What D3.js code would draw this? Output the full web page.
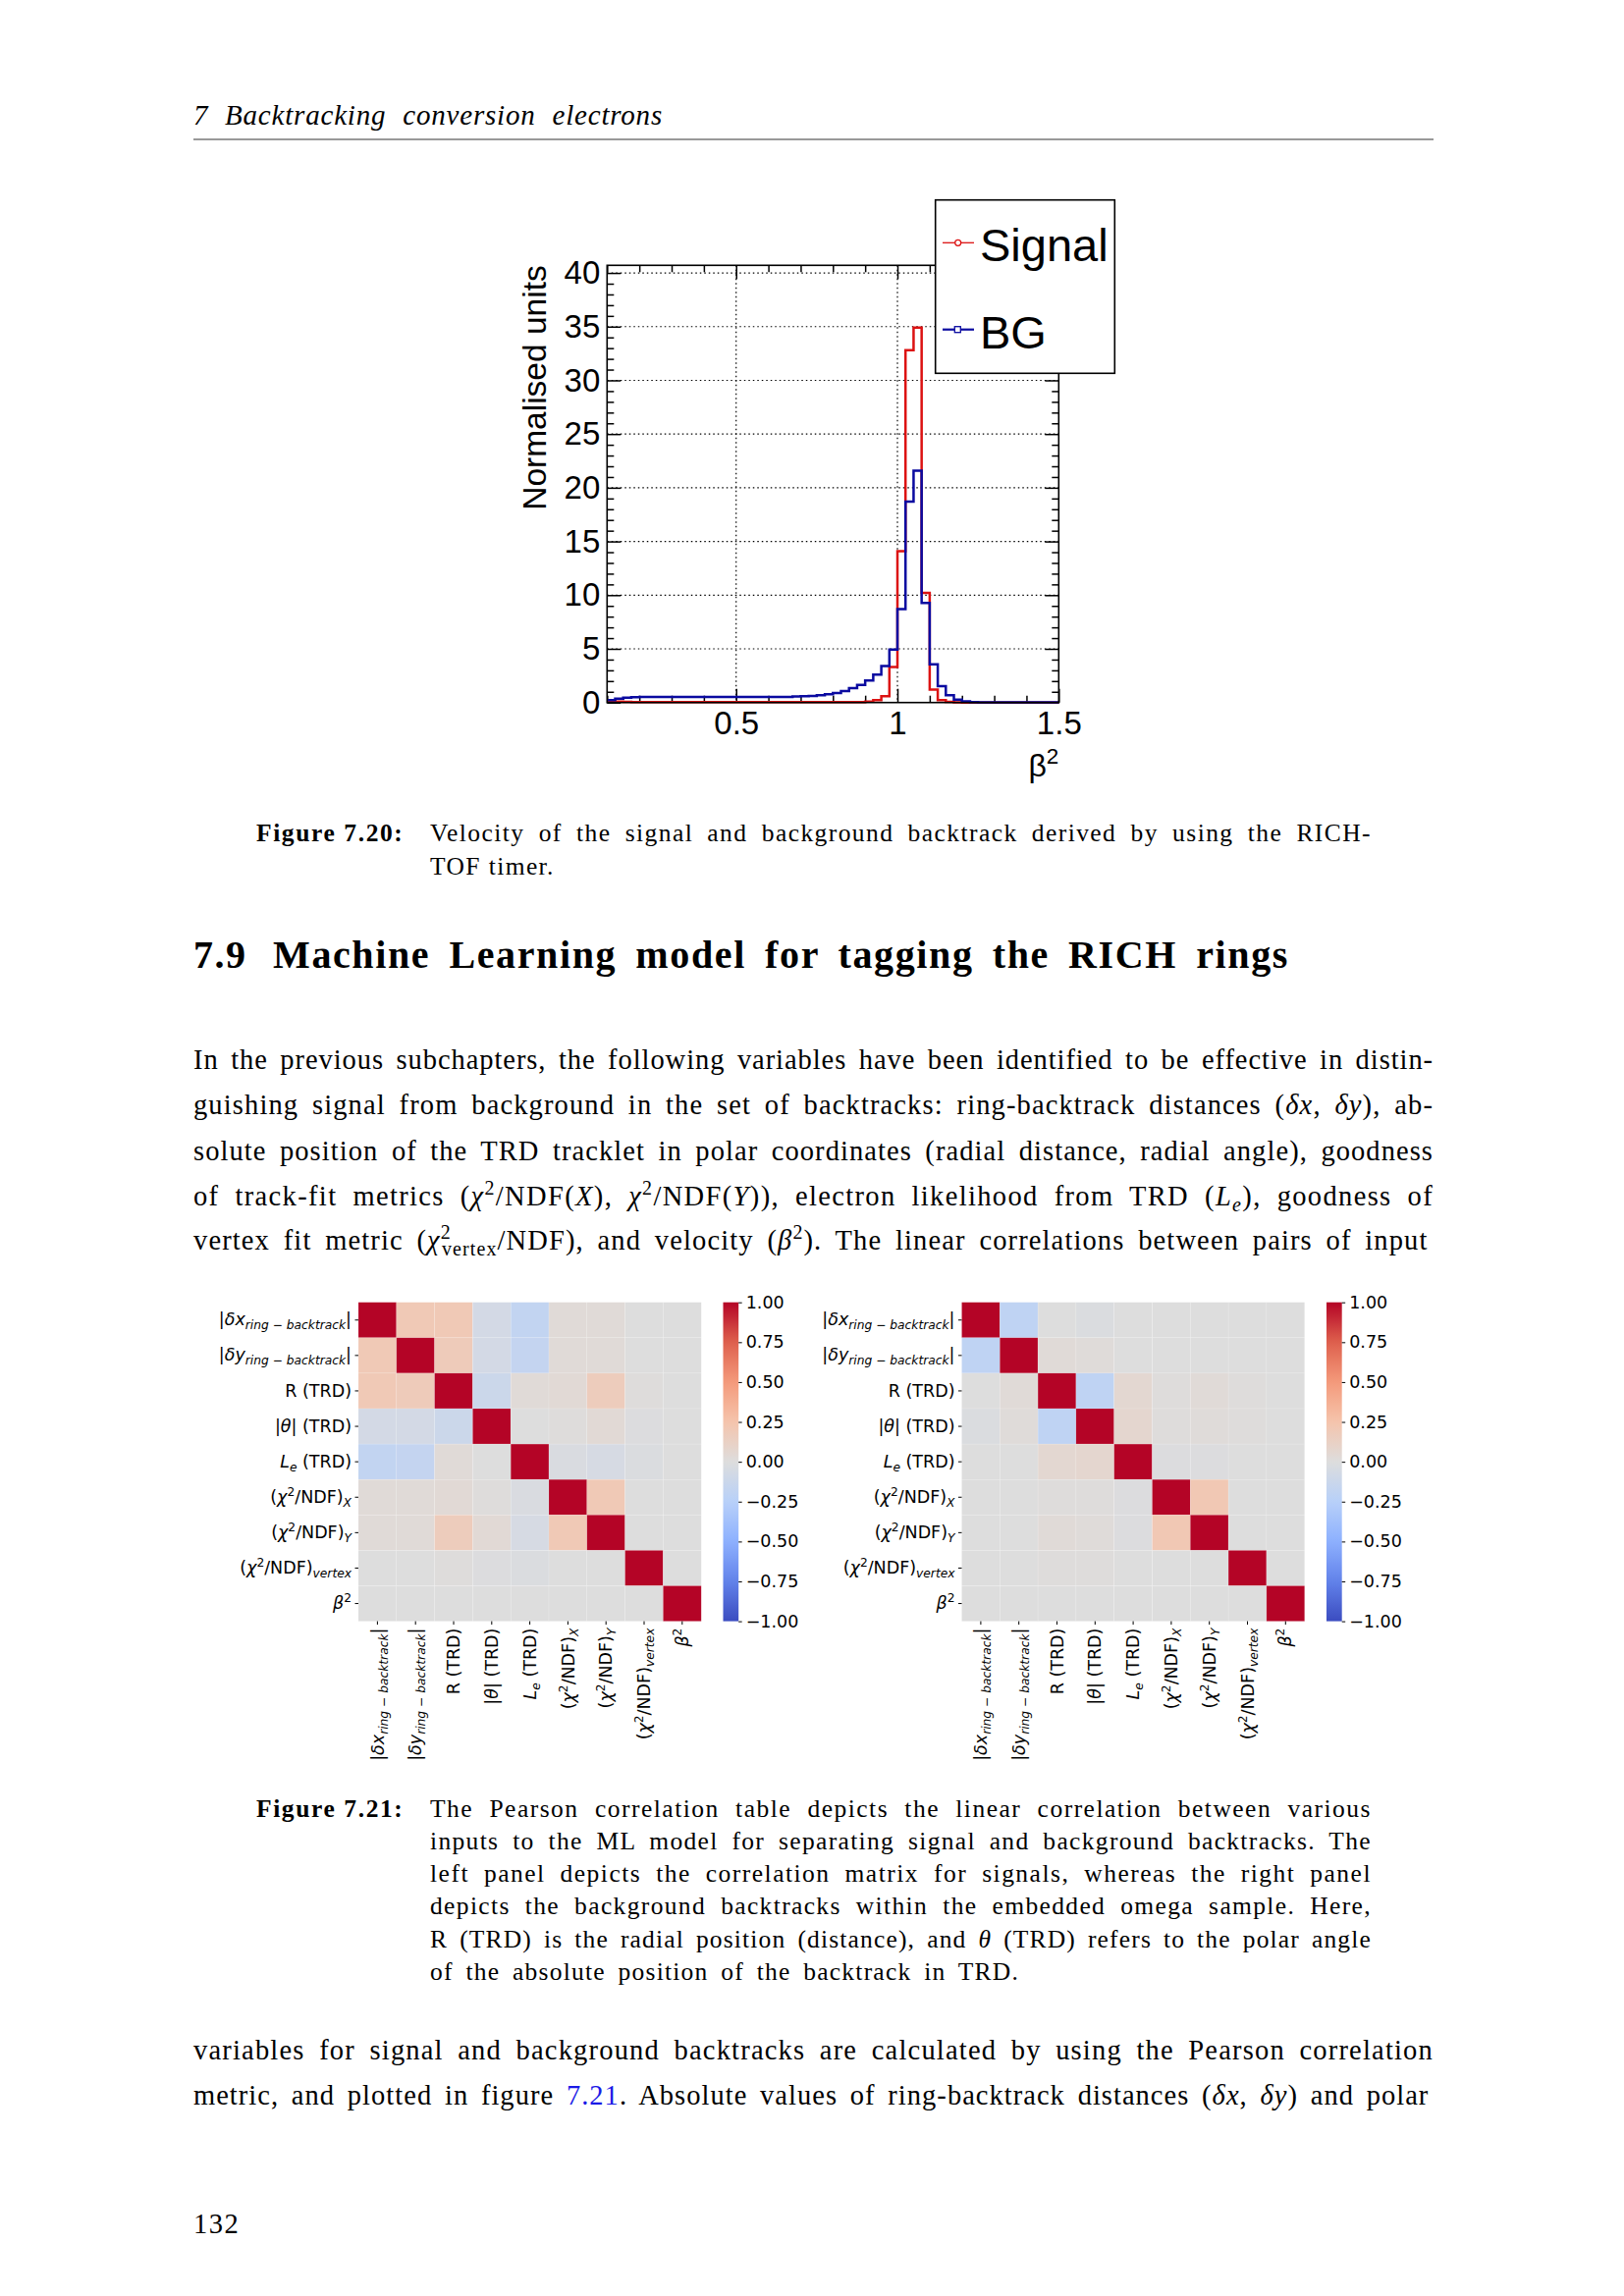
<!DOCTYPE html>
<html>
<head>
<meta charset="utf-8">
<title>beta2 and correlation tables</title>
<script src="https://d3js.org/d3.v7.min.js"></script>
<style>
  body { margin: 0; background: #fff; }
</style>
</head>
<body>
<svg width="1654" height="2339"></svg>
<script>
// ---- histogram: beta^2, bins of 0.025 starting at 0.1
var binLow = 0.1, binWidth = 0.025;
var signal = [
  0.15, 0.08, 0.06, 0.05, 0.05, 0.05, 0.05, 0.05,
  0.05, 0.05, 0.05, 0.05, 0.05, 0.05, 0.05, 0.05,
  0.05, 0.05, 0.05, 0.05, 0.05, 0.05, 0.05, 0.05,
  0.05, 0.05, 0.05, 0.05, 0.05, 0.05, 0.05, 0.05,
  0.08, 0.22, 0.58, 3.3, 14.1, 32.8, 34.9, 10.2,
  1.2, 0.22, 0.06, 0.02, 0, 0, 0, 0,
  0, 0, 0, 0, 0, 0, 0, 0
];
var bg = [
  0.22, 0.37, 0.45, 0.50, 0.52, 0.53, 0.53, 0.53,
  0.53, 0.53, 0.53, 0.53, 0.53, 0.53, 0.53, 0.53,
  0.53, 0.53, 0.53, 0.53, 0.53, 0.53, 0.53, 0.56,
  0.58, 0.61, 0.67, 0.77, 0.89, 1.07, 1.34, 1.65,
  2.05, 2.6, 3.4, 4.94, 8.7, 18.7, 21.6, 9.27,
  3.57, 1.53, 0.67, 0.28, 0.1, 0.03, 0.01, 0.01,
  0.01, 0.01, 0.01, 0.01, 0.01, 0.01, 0.01, 0.01
];
var yTicks = [0, 5, 10, 15, 20, 25, 30, 35, 40];
var xTicks = [0.5, 1, 1.5];
var legendNames = ["Signal", "BG"];

// ---- correlation tables
var vars = [
  "|*δx*_[ring − backtrack]|",
  "|*δy*_[ring − backtrack]|",
  "R (TRD)",
  "|*θ*| (TRD)",
  "*L*_[e] (TRD)",
  "(*χ*^{2}/NDF)_[X]",
  "(*χ*^{2}/NDF)_[Y]",
  "(*χ*^{2}/NDF)_[vertex]",
  "*β*^{2}"
];
var corrSignal = [
  [ 1.00,  0.20,  0.20, -0.07, -0.18,  0.03,  0.03,  0.00,  0.00],
  [ 0.20,  1.00,  0.18, -0.07, -0.17,  0.03,  0.03,  0.00,  0.00],
  [ 0.20,  0.18,  1.00, -0.12,  0.03,  0.04,  0.17,  0.01,  0.00],
  [-0.07, -0.07, -0.12,  1.00,  0.00,  0.01,  0.04, -0.01,  0.00],
  [-0.18, -0.17,  0.03,  0.00,  1.00, -0.03, -0.05, -0.02,  0.00],
  [ 0.03,  0.03,  0.04,  0.01, -0.03,  1.00,  0.20,  0.00,  0.00],
  [ 0.03,  0.03,  0.17,  0.04, -0.05,  0.20,  1.00,  0.00,  0.00],
  [ 0.00,  0.00,  0.01, -0.01, -0.02,  0.00,  0.00,  1.00,  0.00],
  [ 0.00,  0.00,  0.00,  0.00,  0.00,  0.00,  0.00,  0.00,  1.00]
];
var corrBG = [
  [ 1.00, -0.20,  0.00, -0.02,  0.00,  0.00,  0.00,  0.00,  0.00],
  [-0.20,  1.00,  0.03,  0.02,  0.00,  0.00,  0.00,  0.00,  0.00],
  [ 0.00,  0.03,  1.00, -0.20,  0.06,  0.01,  0.03,  0.01,  0.00],
  [-0.02,  0.02, -0.20,  1.00,  0.07,  0.01,  0.02,  0.01,  0.00],
  [ 0.00,  0.00,  0.06,  0.07,  1.00, -0.01, -0.01,  0.00,  0.00],
  [ 0.00,  0.00,  0.01,  0.01, -0.01,  1.00,  0.21,  0.00,  0.00],
  [ 0.00,  0.00,  0.03,  0.02, -0.01,  0.21,  1.00,  0.00,  0.00],
  [ 0.00,  0.00,  0.01,  0.01,  0.00,  0.00,  0.00,  1.00,  0.00],
  [ 0.00,  0.00,  0.00,  0.00,  0.00,  0.00,  0.00,  0.00,  1.00]
];
var cbarTicks = [-1, -0.75, -0.5, -0.25, 0, 0.25, 0.5, 0.75, 1];
// matplotlib coolwarm sampled at the colour bar ticks
var coolwarm = ["#3b4cc0", "#6282ea", "#8db0fe", "#b8d0f9", "#dddddd",
                "#f5c4ac", "#f49a7b", "#de604d", "#b40426"];

var svg = d3.select("svg");
var serif = "Liberation Serif", sans = "Liberation Sans";

// tiny markup: *italic*  ^{sup}  _{sub}  _[italic sub]  ~{link blue}
function rich(sel, str, size) {
  var parts = str.split(/(\*[^*]+\*|\^\{[^}]*\}|_\{[^}]*\}|_\[[^\]]*\]|~\{[^}]*\})/)
    .filter(function (p) { return p !== ""; });
  var lastSup = null;
  parts.forEach(function (p) {
    var t;
    if (p.length > 2 && p[0] === "*" && p[p.length - 1] === "*") {
      sel.append("tspan").style("font-style", "italic").text(p.slice(1, -1));
      lastSup = null;
    } else if (p.indexOf("^{") === 0) {
      lastSup = sel.append("tspan").attr("font-size", size * 0.7)
        .attr("baseline-shift", size * 0.4).text(p.slice(2, -1));
    } else if (p.indexOf("_{") === 0 || p.indexOf("_[") === 0) {
      t = sel.append("tspan").attr("font-size", size * 0.7)
        .attr("baseline-shift", -size * 0.22).text(p.slice(2, -1));
      if (p[1] === "[") t.style("font-style", "italic");
      if (lastSup) t.attr("dx", -lastSup.node().getComputedTextLength());
      lastSup = null;
    } else if (p.indexOf("~{") === 0) {
      sel.append("tspan").attr("fill", "#1a1ae6").text(p.slice(2, -1));
      lastSup = null;
    } else {
      sel.append("tspan").text(p);
      lastSup = null;
    }
  });
}

// text line; with a width, the line is stretched like the wide TeX font:
// part of the gap goes into letter spacing, the rest into word spacing
function line(x, y, str, o) {
  var ls = o.ls || 0;
  var t = svg.append("text").attr("x", x).attr("y", y)
    .attr("font-family", o.family || serif).attr("font-size", o.size)
    .style("letter-spacing", ls + "px");
  if (o.bold) t.attr("font-weight", "bold");
  if (o.italic) t.style("font-style", "italic");
  rich(t, str, o.size);
  if (o.width) {
    var txt = t.text();
    var n = (txt.match(/ /g) || []).length;
    var gap = o.width - t.node().getBBox().width;
    if (gap > 0) {
      ls += (n ? 0.6 : 1) * gap / txt.length;
      t.style("letter-spacing", ls + "px");
    }
    gap = o.width - t.node().getBBox().width;
    if (n) t.style("word-spacing", (gap / n) + "px");
  }
  return t;
}

// ---------------- page text
line(197, 127, "7", {size: 29, italic: true});
line(229, 127, "Backtracking conversion electrons", {size: 29, italic: true, width: 446});
svg.append("line").attr("x1", 197).attr("x2", 1460).attr("y1", 142).attr("y2", 142)
  .attr("stroke", "#999").attr("stroke-width", 2);

var cap = {size: 25.5};
line(261, 857, "Figure 7.20:", {size: 25.5, bold: true, ls: 1.6});
line(438, 857, "Velocity of the signal and background backtrack derived by using the RICH-",
  Object.assign({width: 959}, cap));
line(438, 891, "TOF timer.", {size: 25.5, ls: 1.4});

line(197, 986, "7.9", {size: 40, bold: true, ls: 1.5});
line(278, 986, "Machine Learning model for tagging the RICH rings", {size: 40, bold: true, width: 1035});

var body = {size: 28.5, width: 1263};
var para1 = [
  "In the previous subchapters, the following variables have been identified to be effective in distin-",
  "guishing signal from background in the set of backtracks: ring-backtrack distances (*δx*, *δy*), ab-",
  "solute position of the TRD tracklet in polar coordinates (radial distance, radial angle), goodness",
  "of track-fit metrics (*χ*^{2}/NDF(*X*), *χ*^{2}/NDF(*Y*)), electron likelihood from TRD (*L*_[e]), goodness of",
  "vertex fit metric (*χ*^{2}_{vertex}/NDF), and velocity (*β*^{2}).  The linear correlations between pairs of input"
];
var para1Y = [1089, 1135, 1182, 1228, 1273];
para1.forEach(function (s, i) { line(197, para1Y[i], s, body); });

line(261, 1851, "Figure 7.21:", {size: 25.5, bold: true, ls: 1.6});
var cap2 = [
  "The Pearson correlation table depicts the linear correlation between various",
  "inputs to the ML model for separating signal and background backtracks. The",
  "left panel depicts the correlation matrix for signals, whereas the right panel",
  "depicts the background backtracks within the embedded omega sample. Here,",
  "R (TRD) is the radial position (distance), and *θ* (TRD) refers to the polar angle",
  "of the absolute position of the backtrack in TRD."
];
var cap2Y = [1851, 1884, 1917, 1950, 1984, 2017];
var cap2W = [959, 959, 959, 959, 959, 600];
cap2.forEach(function (s, i) {
  line(438, cap2Y[i], s, Object.assign({width: cap2W[i]}, cap));
});

var para2 = [
  "variables for signal and background backtracks are calculated by using the Pearson correlation",
  "metric, and plotted in figure ~{7.21}.  Absolute values of ring-backtrack distances (*δx*, *δy*) and polar"
];
var para2Y = [2098, 2144];
para2.forEach(function (s, i) { line(197, para2Y[i], s, body); });
line(197, 2275, "132", {size: 28.5, ls: 1.5});

// ---------------- histogram (ROOT style)
var hx = d3.scaleLinear().domain([0.1, 1.5]).range([618.3, 1078.3]);
var hy = d3.scaleLinear().domain([0, 40.71]).range([715.7, 270.3]);
var H = svg.append("g");
var hL = hx.range()[0], hR = hx.range()[1], hT = hy.range()[1], hB = hy.range()[0];

// dotted grid
H.selectAll(".gx").data(xTicks.filter(function (d) { return d < 1.5; })).join("line")
  .attr("x1", hx).attr("x2", hx).attr("y1", hT).attr("y2", hB);
H.selectAll(".gy").data(yTicks.filter(function (d) { return d > 0; })).join("line")
  .attr("x1", hL).attr("x2", hR).attr("y1", hy).attr("y2", hy);
H.selectAll("line").attr("stroke", "#000").attr("stroke-width", 1.2).attr("stroke-dasharray", "1.5,3");

var yMinor = d3.range(0, 41).filter(function (d) { return d % 5; });
var xMinor = [0.1, 0.2, 0.3, 0.4, 0.6, 0.7, 0.8, 0.9, 1.1, 1.2, 1.3, 1.4];
function axisStyle(g) {
  g.select(".domain").remove();
  g.selectAll("line").attr("stroke", "#000").attr("stroke-width", 1.5);
  g.attr("font-family", sans).attr("font-size", 33);
  g.selectAll("text").attr("fill", "#000");
}
H.append("g").attr("transform", "translate(" + hL + ",0)")
  .call(d3.axisLeft(hy).tickValues(yTicks).tickSizeInner(-14).tickSizeOuter(0).tickPadding(7).tickFormat(d3.format("d")))
  .call(axisStyle);
H.append("g").attr("transform", "translate(" + hL + ",0)")
  .call(d3.axisLeft(hy).tickValues(yMinor).tickSizeInner(-7).tickSizeOuter(0).tickFormat(""))
  .call(axisStyle);
H.append("g").attr("transform", "translate(" + hR + ",0)")
  .call(d3.axisRight(hy).tickValues(yTicks).tickSizeInner(-14).tickSizeOuter(0).tickFormat(""))
  .call(axisStyle);
H.append("g").attr("transform", "translate(" + hR + ",0)")
  .call(d3.axisRight(hy).tickValues(yMinor).tickSizeInner(-7).tickSizeOuter(0).tickFormat(""))
  .call(axisStyle);
H.append("g").attr("transform", "translate(0," + hB + ")")
  .call(d3.axisBottom(hx).tickValues(xTicks).tickSizeInner(-14).tickSizeOuter(0).tickPadding(9).tickFormat(d3.format("")))
  .call(axisStyle);
H.append("g").attr("transform", "translate(0," + hB + ")")
  .call(d3.axisBottom(hx).tickValues(xMinor).tickSizeInner(-7).tickSizeOuter(0).tickFormat(""))
  .call(axisStyle);
H.append("g").attr("transform", "translate(0," + hT + ")")
  .call(d3.axisTop(hx).tickValues(xTicks).tickSizeInner(-14).tickSizeOuter(0).tickFormat(""))
  .call(axisStyle);
H.append("g").attr("transform", "translate(0," + hT + ")")
  .call(d3.axisTop(hx).tickValues(xMinor).tickSizeInner(-7).tickSizeOuter(0).tickFormat(""))
  .call(axisStyle);

function steps(vals) {
  var pts = vals.map(function (v, i) { return [binLow + i * binWidth, v]; });
  pts.push([binLow + vals.length * binWidth, vals[vals.length - 1]]);
  return d3.line().x(function (d) { return hx(d[0]); }).y(function (d) { return hy(d[1]); })
    .curve(d3.curveStepAfter)(pts);
}
var sigCol = "#dc1212", bgCol = "#0a0aa0";
H.append("path").attr("d", steps(signal)).attr("fill", "none").attr("stroke", sigCol).attr("stroke-width", 2.5);
H.append("path").attr("d", steps(bg)).attr("fill", "none").attr("stroke", bgCol).attr("stroke-width", 2.5);

H.append("rect").attr("x", hL).attr("y", hT).attr("width", hR - hL).attr("height", hB - hT)
  .attr("fill", "none").attr("stroke", "#000").attr("stroke-width", 1.6);

// axis titles
H.append("text").attr("transform", "translate(556," + hT + ") rotate(-90)")
  .attr("text-anchor", "end").attr("font-family", sans).attr("font-size", 33.5)
  .text("Normalised units");
var xt = H.append("text").attr("x", hR).attr("y", 791).attr("text-anchor", "end")
  .attr("font-family", sans).attr("font-size", 32);
rich(xt, "β^{2}", 32);

// legend
var lg = H.append("g");
lg.append("rect").attr("x", 952.7).attr("y", 203.7).attr("width", 182.6).attr("height", 176.6)
  .attr("fill", "#fff").attr("stroke", "#000").attr("stroke-width", 1.6);
var legY = [247.3, 335.7];
legendNames.forEach(function (name, i) {
  var c = i === 0 ? sigCol : bgCol;
  lg.append("line").attr("x1", 960).attr("x2", 992).attr("y1", legY[i]).attr("y2", legY[i])
    .attr("stroke", c).attr("stroke-width", i === 0 ? 1.3 : 2.2);
  if (i === 0) {
    lg.append("circle").attr("cx", 975.7).attr("cy", legY[i]).attr("r", 3)
      .attr("fill", "#fff").attr("stroke", c).attr("stroke-width", 1.3);
  } else {
    lg.append("rect").attr("x", 972.3).attr("y", legY[i] - 3).attr("width", 6).attr("height", 6)
      .attr("fill", "#fff").attr("stroke", c).attr("stroke-width", 1.3);
  }
  lg.append("text").attr("x", 998).attr("y", legY[i] + 19).attr("font-family", sans)
    .attr("font-size", 47).text(name);
});

// ---------------- heat maps (seaborn style)
var cmap = d3.scaleLinear().domain(cbarTicks).range(coolwarm).interpolate(d3.interpolateRgb);
var grad = svg.append("defs").append("linearGradient").attr("id", "cw")
  .attr("x1", 0).attr("x2", 0).attr("y1", 1).attr("y2", 0);
grad.selectAll("stop").data(d3.range(0, 1.0001, 0.02)).join("stop")
  .attr("offset", function (d) { return d; })
  .attr("stop-color", function (d) { return cmap(-1 + 2 * d); });

var hmFont = 17.5;
function heatmap(ox, oy, matrix, cbx) {
  var g = svg.append("g");
  var cw = 38.8, ch = 36.1;
  var cols = d3.scaleBand().domain(d3.range(vars.length)).range([ox, ox + cw * vars.length]);
  var rows = d3.scaleBand().domain(d3.range(vars.length)).range([oy, oy + ch * vars.length]);
  var cells = [];
  matrix.forEach(function (r, i) { r.forEach(function (v, j) { cells.push({i: i, j: j, v: v}); }); });
  g.selectAll("rect.cell").data(cells).join("rect").attr("class", "cell")
    .attr("x", function (d) { return cols(d.j); }).attr("y", function (d) { return rows(d.i); })
    .attr("width", cols.bandwidth()).attr("height", rows.bandwidth())
    .attr("fill", function (d) { return cmap(d.v); })
    .attr("stroke", "#fff").attr("stroke-opacity", 0.22).attr("stroke-width", 0.6);

  function style(a) {
    a.select(".domain").remove();
    a.attr("font-family", "DejaVu Sans").attr("font-size", hmFont);
    a.selectAll("line").attr("stroke", "#000").attr("stroke-width", 1);
    a.selectAll("text").attr("fill", "#000");
  }
  var ay = g.append("g").attr("transform", "translate(" + ox + ",0)")
    .call(d3.axisLeft(rows).tickSize(3.5).tickPadding(3.5).tickFormat("")).call(style);
  ay.selectAll("text").each(function (d) { rich(d3.select(this), vars[d], hmFont); });
  var ax = g.append("g").attr("transform", "translate(0," + (oy + ch * vars.length) + ")")
    .call(d3.axisBottom(cols).tickSize(3.5).tickPadding(3.5).tickFormat("")).call(style);
  ax.selectAll("text").attr("transform", "rotate(-90)").attr("x", -7).attr("y", 0)
    .attr("dy", "0.35em").attr("text-anchor", "end")
    .each(function (d) { rich(d3.select(this), vars[d], hmFont); });

  var cy = d3.scaleLinear().domain([-1, 1]).range([oy + ch * vars.length, oy]);
  g.append("rect").attr("x", cbx).attr("y", oy).attr("width", 15.7).attr("height", ch * vars.length)
    .attr("fill", "url(#cw)");
  g.append("g").attr("transform", "translate(" + (cbx + 15.7) + ",0)")
    .call(d3.axisRight(cy).tickValues(cbarTicks).tickSize(3.5).tickPadding(4).tickFormat(d3.format(".2f")))
    .call(style);
}
heatmap(365, 1326.7, corrSignal, 736.5);
heatmap(979.5, 1326.7, corrBG, 1351);
</script>
</body>
</html>
